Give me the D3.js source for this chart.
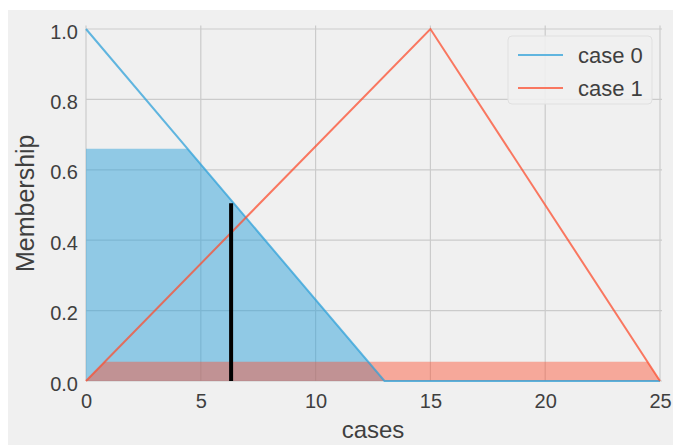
<!DOCTYPE html>
<html>
<head>
<meta charset="utf-8">
<script src="https://cdn.jsdelivr.net/npm/d3@7"></script>
<style>
  body { margin: 0; background: white; }
  text { font-family: "Liberation Sans", Arial, sans-serif; fill: #3f3f3f; }
</style>
</head>
<body>
<script>
// membership functions, given by their vertices
const universe = [0, 25]
const case0X = [0, 13, 25]
const case0Y = [1, 0, 0]
const case1X = [0, 15, 25]
const case1Y = [0, 1, 0]

// activation levels of the rules
const case0Level = 0.66
const case1Level = 0.055

// defuzzified result
const resultX = 6.32
const resultY = 0.505

const xTicks = [0, 5, 10, 15, 20, 25]
const yTicks = [0, 0.2, 0.4, 0.6, 0.8, 1.0]
const seriesNames = ['case 0', 'case 1']
const colors = ['#30a2da', '#fc4f30']

const W = 673, H = 445
const plot = {left: 86, right: 660, top: 25.5, bottom: 381}

const svg = d3.select('body').append('svg')
    .attr('width', W)
    .attr('height', H)

svg.append('rect')
    .attr('x', 8).attr('y', 10)
    .attr('width', W - 8).attr('height', H - 10)
    .attr('fill', '#f0f0f0')

const x = d3.scaleLinear().domain(universe).range([plot.left, plot.right])
const y = d3.scaleLinear().domain([0, 1.01]).range([plot.bottom, plot.top])

// grid
const grid = svg.append('g')
grid.selectAll('.hgrid')
    .data(yTicks)
    .join('line')
    .attr('x1', plot.left).attr('x2', plot.right + 2)
    .attr('y1', d => y(d)).attr('y2', d => y(d))
    .attr('stroke', '#cbcbcb').attr('stroke-width', 1.2)
grid.selectAll('.vgrid')
    .data(xTicks)
    .join('line')
    .attr('x1', d => x(d)).attr('x2', d => x(d))
    .attr('y1', plot.top).attr('y2', plot.bottom)
    .attr('stroke', '#cbcbcb').attr('stroke-width', 1.2)

function toPoints(xs, ys){
    return xs.map((v, i) => [v, ys[i]])
}

const area = d3.area().x(d => x(d[0])).y0(y(0)).y1(d => y(d[1]))
const line = d3.line().x(d => x(d[0])).y(d => y(d[1]))

// clip each fill to its activation level
const defs = svg.append('defs')
const levels = [case0Level, case1Level]
levels.forEach((lv, i) => {
    defs.append('clipPath').attr('id', 'clip' + i)
        .append('rect')
        .attr('x', plot.left).attr('y', y(lv))
        .attr('width', plot.right - plot.left)
        .attr('height', y(0) - y(lv))
})

const shapes = [toPoints(case0X, case0Y), toPoints(case1X, case1Y)]
const fillAlpha = [0.5, 0.45]

svg.selectAll('.fill')
    .data(shapes)
    .join('path')
    .attr('d', area)
    .attr('clip-path', (d, i) => 'url(#clip' + i + ')')
    .attr('fill', (d, i) => colors[i])
    .attr('fill-opacity', (d, i) => fillAlpha[i])

svg.selectAll('.mf')
    .data(shapes)
    .join('path')
    .attr('d', line)
    .attr('fill', 'none')
    .attr('stroke', (d, i) => colors[i])
    .attr('stroke-opacity', 0.75)
    .attr('stroke-width', 2)

svg.append('line')
    .attr('x1', x(resultX)).attr('x2', x(resultX))
    .attr('y1', y(0)).attr('y2', y(resultY))
    .attr('stroke', 'black')
    .attr('stroke-width', 4)

// axes, drawn with d3 and then stripped of their frame
const xAxis = svg.append('g')
    .attr('transform', 'translate(0,' + plot.bottom + ')')
    .call(d3.axisBottom(x).tickValues(xTicks).tickSize(0).tickPadding(13))
const yAxis = svg.append('g')
    .attr('transform', 'translate(' + plot.left + ',0)')
    .call(d3.axisLeft(y).tickValues(yTicks).tickFormat(d3.format('.1f')).tickSize(0).tickPadding(8))
xAxis.select('.domain').remove()
yAxis.select('.domain').remove()
xAxis.selectAll('text').attr('font-size', 20).attr('fill', '#3f3f3f')
    .style('font-family', '"Liberation Sans", Arial, sans-serif')
yAxis.selectAll('text').attr('font-size', 20).attr('fill', '#3f3f3f').attr('dy', '0.45em')
    .style('font-family', '"Liberation Sans", Arial, sans-serif')

svg.append('text')
    .attr('x', (plot.left + plot.right) / 2)
    .attr('y', 438)
    .attr('text-anchor', 'middle')
    .attr('font-size', 24)
    .text('cases')

svg.append('text')
    .attr('transform', 'translate(34,' + ((plot.top + plot.bottom) / 2) + ') rotate(-90)')
    .attr('text-anchor', 'middle')
    .attr('font-size', 25)
    .text('Membership')

// legend
const legend = svg.append('g')
legend.append('rect')
    .attr('x', 508).attr('y', 36)
    .attr('width', 144).attr('height', 68)
    .attr('rx', 4)
    .attr('fill', '#f0f0f0').attr('fill-opacity', 0.9)
    .attr('stroke', '#e0e0e0')

const items = legend.selectAll('.item')
    .data(seriesNames)
    .join('g')
    .attr('transform', (d, i) => 'translate(518,' + (55 + i * 33) + ')')
items.append('line')
    .attr('x1', 0).attr('x2', 45)
    .attr('stroke', (d, i) => colors[i])
    .attr('stroke-opacity', 0.75)
    .attr('stroke-width', 2)
items.append('text')
    .attr('x', 60)
    .attr('dy', '0.36em')
    .attr('font-size', 22)
    .text(d => d)
</script>
</body>
</html>
